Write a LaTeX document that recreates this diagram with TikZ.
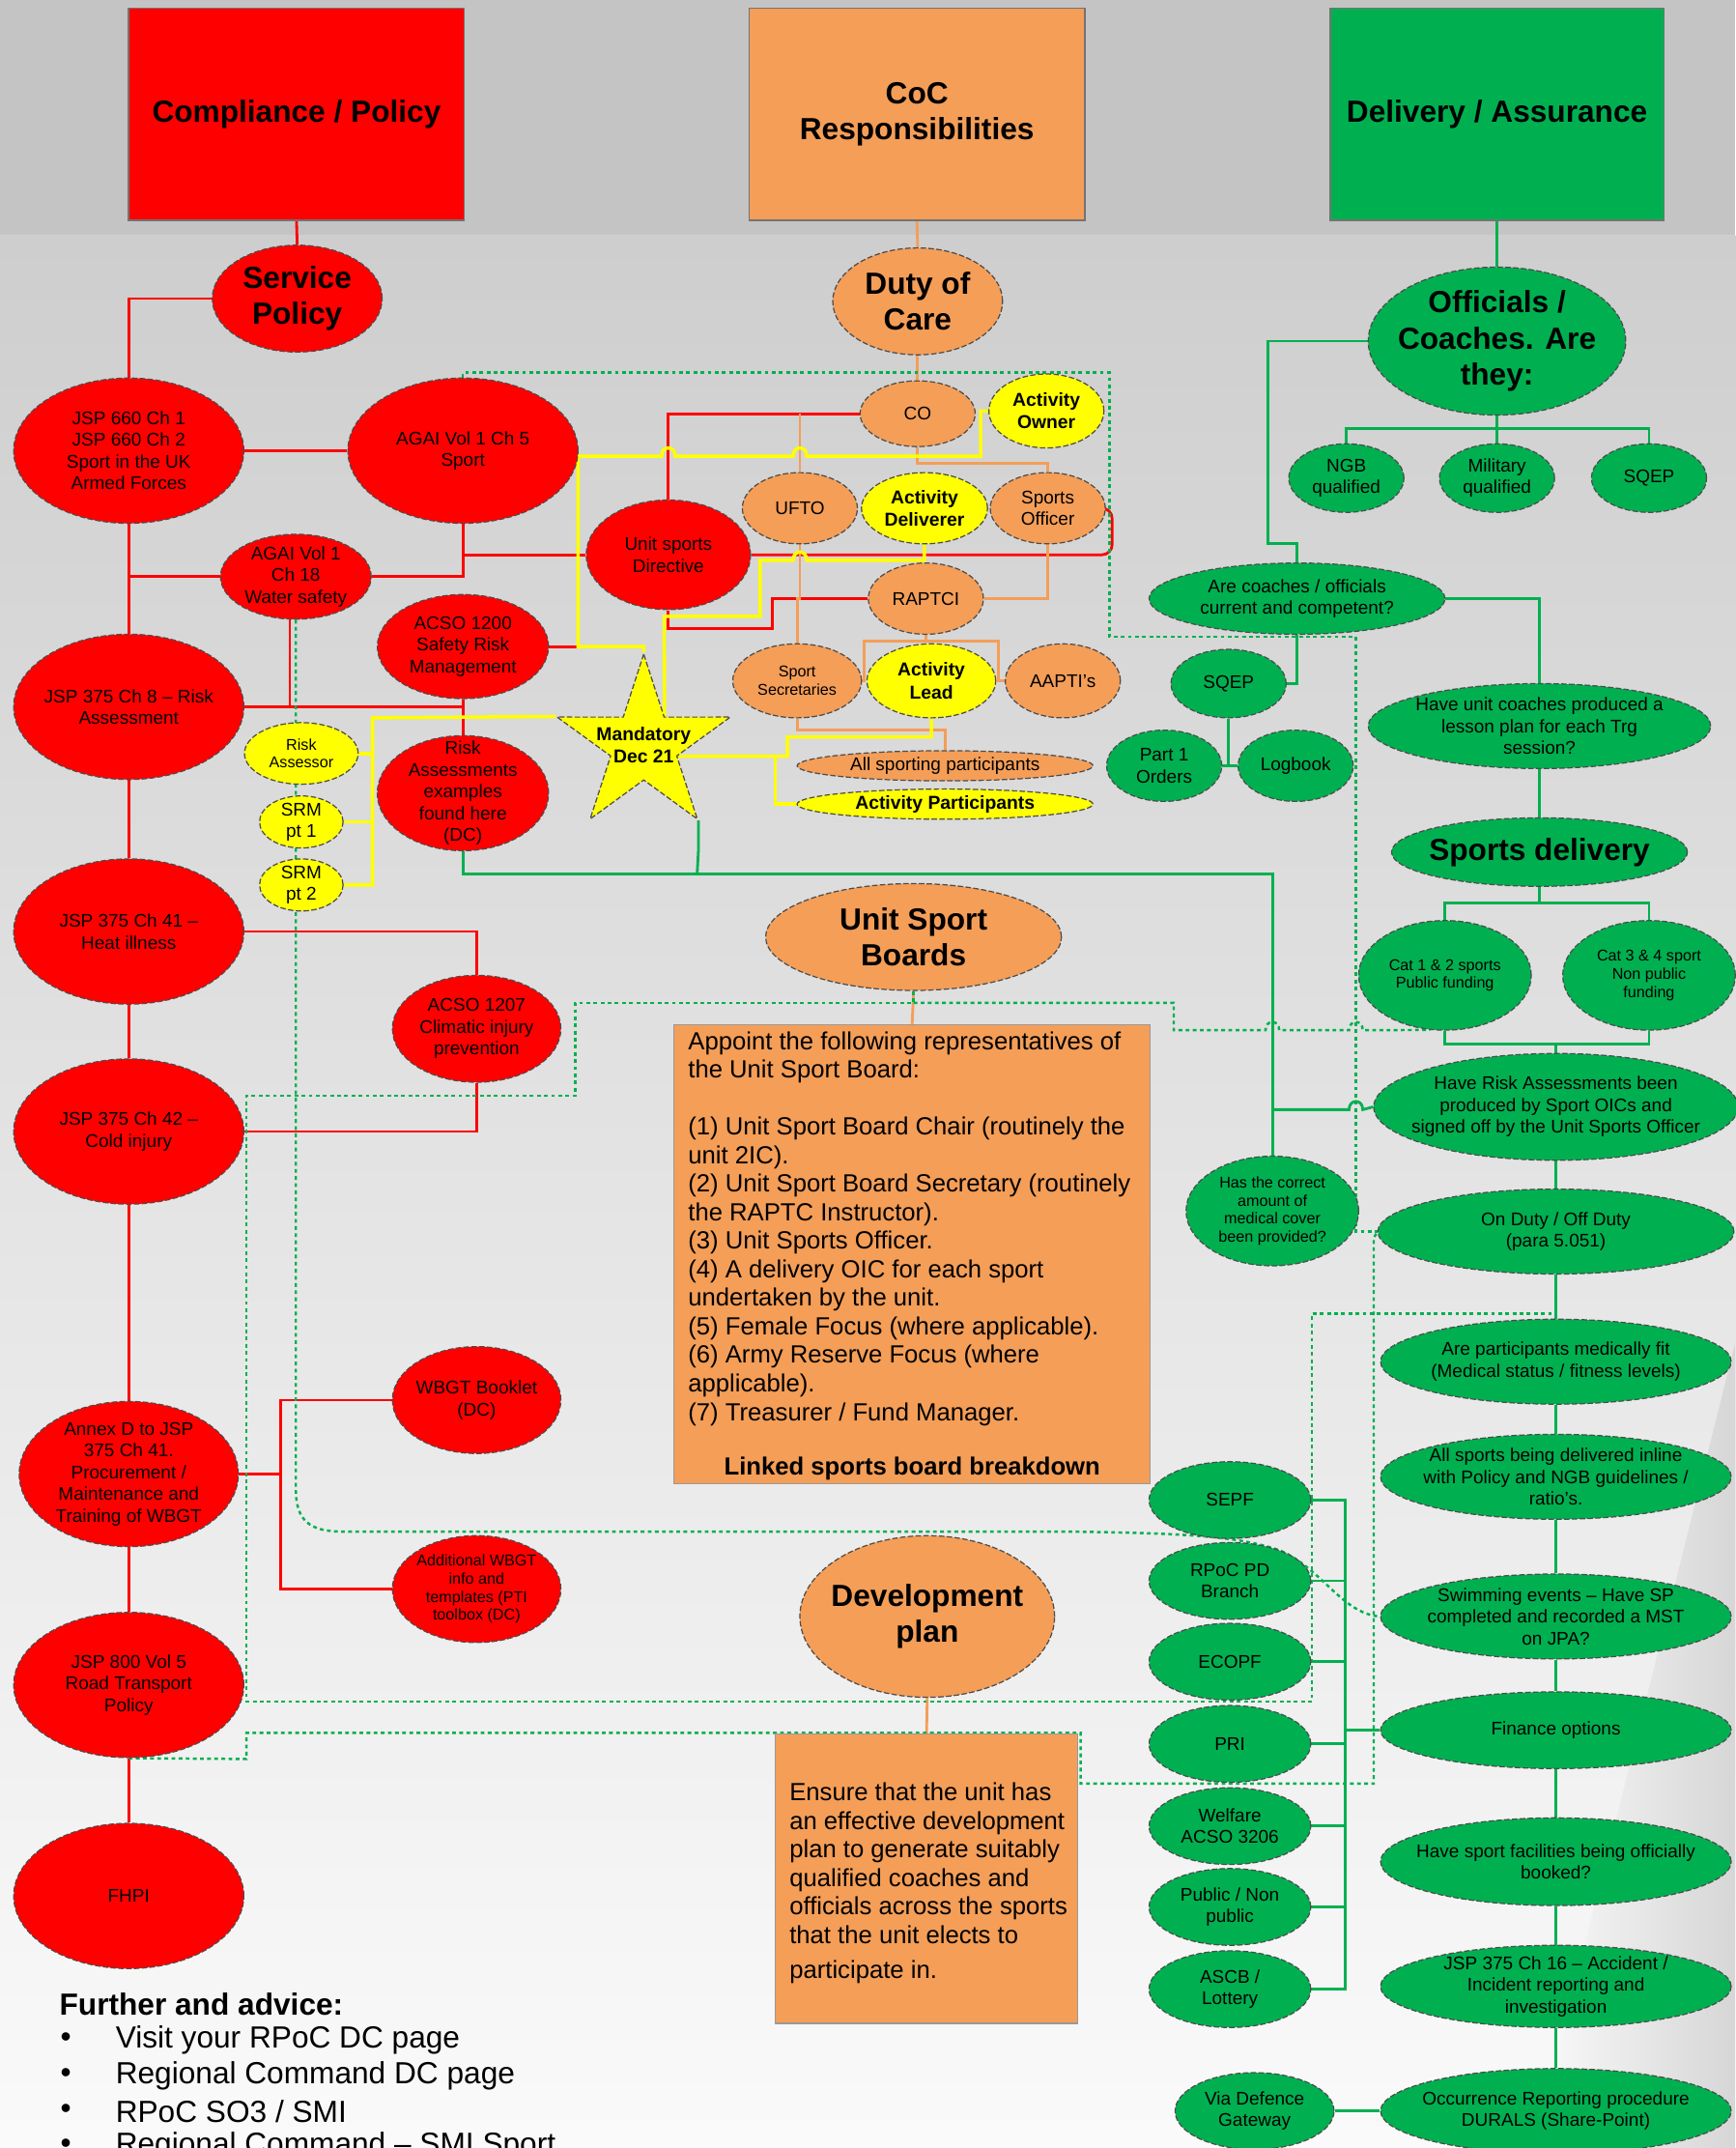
\documentclass[tikz,border=0pt]{standalone}
\usepackage{fontspec}
\setmainfont{Liberation Sans}
\usetikzlibrary{shapes.geometric}

\definecolor{polred}{RGB}{255,0,0}
\definecolor{cocorange}{RGB}{244,158,88}
\definecolor{delgreen}{RGB}{0,176,80}
\definecolor{actyellow}{RGB}{255,255,0}
\definecolor{bgtop}{RGB}{196,196,196}
\definecolor{bgmid}{RGB}{206,206,206}
\definecolor{bgbot}{RGB}{250,250,250}

\def\pxu{0.014175cm}

\pgfdeclarelayer{bg}
\pgfdeclarelayer{lines}
\pgfsetlayers{bg,lines,main}

\tikzset{
  outline/.style={draw=black!70, line width=0.35pt, dash pattern=on 1.6pt off 0.7pt},
  sz/.style 2 args={minimum width=#1*\pxu, minimum height=#2*\pxu},
  redell/.style={ellipse, outline, fill=polred, inner sep=0pt},
  orell/.style={ellipse, outline, fill=cocorange, inner sep=0pt},
  yelell/.style={ellipse, outline, fill=actyellow, inner sep=0pt},
  grell/.style={ellipse, outline, fill=delgreen, inner sep=0pt},
  headbox/.style={rectangle, draw=black!55, line width=0.5pt, inner sep=0pt, align=center,
    font=\fontsize{9}{10.5}\selectfont\bfseries},
  txt/.style={align=center, inner sep=0pt, font=\fontsize{5.4}{6.4}\selectfont},
  txtsm/.style={align=center, inner sep=0pt, font=\fontsize{4.6}{5.3}\selectfont},
  txtbold/.style={align=center, inner sep=0pt, font=\fontsize{5.5}{6.6}\selectfont\bfseries},
  txtbig/.style={align=center, inner sep=0pt, font=\fontsize{9}{10.6}\selectfont\bfseries},
  boxtxt/.style={align=left, inner sep=0pt, font=\fontsize{7.3}{8.4}\selectfont},
  redline/.style={draw=polred, line width=0.8pt},
  orline/.style={draw=cocorange, line width=0.8pt},
  grline/.style={draw=delgreen, line width=0.8pt},
  yelline/.style={draw=actyellow, line width=1pt},
  grdots/.style={draw=delgreen, line width=0.7pt, dash pattern=on 1.1pt off 1pt},
}

\begin{document}
\begin{tikzpicture}[x=0.014175cm, y=-0.014175cm]
\useasboundingbox (0,0) rectangle (1267,1568);

% Background
\begin{pgfonlayer}{bg}
\fill[bgtop] (0,0) rectangle (1267,172);
\shade[top color=bgmid, bottom color=bgbot] (0,172) rectangle (1267,1568);
\shade[left color=bgbot, right color=black!16] (1120,1568) -- (1267,980) -- (1267,1568) -- cycle;
\end{pgfonlayer}

% Header boxes
\node[headbox, fill=polred, sz={245}{155}] (compl) at (216.5,83.5) {Compliance / Policy};
\node[headbox, fill=cocorange, sz={245}{155}] (cocresp) at (669.5,83.5) {CoC\\Responsibilities};
\node[headbox, fill=delgreen, sz={244}{155}] (delass) at (1093,83.5) {Delivery / Assurance};

% Compliance / policy column
\node[redell, sz={124}{78}, label={[txtbig]center:{Service\\Policy}}] (servpol) at (217,218) {};
\node[redell, sz={168}{106}, label={[txt]center:{JSP 660 Ch 1\\JSP 660 Ch 2\\Sport in the UK\\Armed Forces}}] (jsp660) at (94,329) {};
\node[redell, sz={168}{106}, label={[txt]center:{AGAI Vol 1 Ch 5\\Sport}}] (agai5) at (338,329) {};
\node[redell, sz={110}{62}, label={[txt]center:{AGAI Vol 1\\Ch 18\\Water safety}}] (agai18) at (216,421) {};
\node[redell, sz={168}{106}, label={[txt]center:{JSP 375 Ch 8 – Risk\\Assessment}}] (jsp8) at (94,516) {};
\node[redell, sz={125}{76}, label={[txt]center:{ACSO 1200\\Safety Risk\\Management}}] (acso1200) at (338,472) {};
\node[redell, sz={125}{84}, label={[txt]center:{Risk\\Assessments\\examples\\found here\\(DC)}}] (riskdc) at (338,579) {};
\node[redell, sz={120}{80}, label={[txt]center:{Unit sports\\Directive}}] (usd) at (488,405) {};
\node[yelell, sz={83}{45}, label={[txtsm]center:{Risk\\Assessor}}] (riskass) at (220,550) {};
\node[yelell, sz={61}{38}, label={[txt]center:{SRM\\pt 1}}] (srm1) at (220,600) {};
\node[yelell, sz={61}{38}, label={[txt]center:{SRM\\pt 2}}] (srm2) at (220,646) {};
\node[redell, sz={168}{106}, label={[txt]center:{JSP 375 Ch 41 –\\Heat illness}}] (jsp41) at (94,680) {};
\node[redell, sz={123}{78}, label={[txt]center:{ACSO 1207\\Climatic injury\\prevention}}] (acso1207) at (348,751) {};
\node[redell, sz={168}{106}, label={[txt]center:{JSP 375 Ch 42 –\\Cold injury}}] (jsp42) at (94,826) {};
\node[redell, sz={123}{78}, label={[txt]center:{WBGT Booklet\\(DC)}}] (wbgt) at (348,1022) {};
\node[redell, sz={160}{106}, label={[txt]center:{Annex D to JSP\\375 Ch 41.\\Procurement /\\Maintenance and\\Training of WBGT}}] (annexd) at (94,1076) {};
\node[redell, sz={123}{78}, label={[txtsm]center:{Additional WBGT\\info and\\templates (PTI\\toolbox (DC)}}] (addwbgt) at (348,1160) {};
\node[redell, sz={168}{106}, label={[txt]center:{JSP 800 Vol 5\\Road Transport\\Policy}}] (jsp800) at (94,1230) {};
\node[redell, sz={168}{106}, label={[txt]center:FHPI}] (fhpi) at (94,1384) {};

% Mandatory star
\node[star, star points=5, star point ratio=2.62, fill=actyellow, outline, inner sep=0pt, minimum size=133*\pxu] (mand) at (470,544) {};
\node[txtbold] (mandtxt) at (470,544) {Mandatory\\Dec 21};

% CoC responsibilities column
\node[orell, sz={124}{78}, label={[txtbig]center:{Duty of\\Care}}] (duty) at (670,220) {};
\node[orell, sz={84}{48}, label={[txt]center:CO}] (co) at (670,302) {};
\node[yelell, sz={84}{54}, label={[txtbold]center:{Activity\\Owner}}] (actowner) at (764,300) {};
\node[orell, sz={84}{52}, label={[txt]center:UFTO}] (ufto) at (584,371) {};
\node[yelell, sz={92}{52}, label={[txtbold]center:{Activity\\Deliverer}}] (actdel) at (675,371) {};
\node[orell, sz={84}{52}, label={[txt]center:{Sports\\Officer}}] (sportsoff) at (765,371) {};
\node[orell, sz={84}{52}, label={[txt]center:RAPTCI}] (raptci) at (676,437) {};
\node[orell, sz={94}{54}, label={[txtsm]center:{Sport\\Secretaries}}] (sportsec) at (582,497) {};
\node[yelell, sz={94}{54}, label={[txtbold]center:{Activity\\Lead}}] (actlead) at (680,497) {};
\node[orell, sz={84}{54}, label={[txt]center:AAPTI's}] (aapti) at (776,497) {};
\node[orell, sz={216}{22}, label={[txt]center:All sporting participants}] (allsport) at (690,559) {};
\node[yelell, sz={216}{22}, label={[txtbold]center:Activity Participants}] (actpart) at (690,587) {};
\node[orell, sz={216}{78}, label={[txtbig]center:{Unit Sport\\Boards}}] (usb) at (667,684) {};

\node[rectangle, fill=cocorange, draw=black!40, line width=0.3pt, inner sep=0pt, sz={348}{335}] (usbbox) at (666,915.5) {};
\node[boxtxt, anchor=north west] (usbtxt) at (502,752.5) {Appoint the following representatives of\\the Unit Sport Board:\\[8.4pt]%
(1) Unit Sport Board Chair (routinely the\\unit 2IC).\\(2) Unit Sport Board Secretary (routinely\\the RAPTC Instructor).\\%
(3) Unit Sports Officer.\\(4) A delivery OIC for each sport\\undertaken by the unit.\\(5) Female Focus (where applicable).\\%
(6) Army Reserve Focus (where\\applicable).\\(7) Treasurer / Fund Manager.};
\node[boxtxt, font=\fontsize{7.3}{8.4}\selectfont\bfseries] (usblink) at (666,1072) {Linked sports board breakdown};

\node[orell, sz={186}{118}, label={[txtbig]center:{Development\\plan}}] (devplan) at (677,1180) {};
\node[rectangle, fill=cocorange, draw=black!40, line width=0.3pt, inner sep=0pt, sz={221}{211}] (devbox) at (676.5,1371.5) {};
\node[boxtxt, anchor=north west] (devtxt) at (576,1301) {Ensure that the unit has\\an effective development\\plan to generate suitably\\%
qualified coaches and\\officials across the sports\\that the unit elects to\\[1.8pt]participate in.};

% Delivery / assurance column
\node[grell, sz={188}{108}, label={[txtbig]center:{Officials /\\Coaches. Are\\they:}}] (officials) at (1093,249) {};
\node[grell, sz={84}{50}, label={[txt]center:{NGB\\qualified}}] (ngb) at (983,349) {};
\node[grell, sz={84}{50}, label={[txt]center:{Military\\qualified}}] (military) at (1093,349) {};
\node[grell, sz={84}{50}, label={[txt]center:SQEP}] (sqepa) at (1204,349) {};
\node[grell, sz={216}{52}, label={[txt]center:{Are coaches / officials\\current and competent?}}] (arecoach) at (947,437) {};
\node[grell, sz={84}{50}, label={[txt]center:SQEP}] (sqepb) at (897,499) {};
\node[grell, sz={84}{52}, label={[txt]center:{Part 1\\Orders}}] (partone) at (850,559) {};
\node[grell, sz={84}{52}, label={[txt]center:Logbook}] (logbook) at (946,559) {};
\node[grell, sz={250}{62}, label={[txt]center:{Have unit coaches produced a\\lesson plan for each Trg\\session?}}] (lessonplan) at (1124,530) {};
\node[grell, sz={216}{50}, label={[txtbig]center:Sports delivery}] (sportsdel) at (1124,622) {};
\node[grell, sz={126}{80}, label={[txtsm]center:{Cat 1 \& 2 sports\\Public funding}}] (catlow) at (1055,712) {};
\node[grell, sz={126}{80}, label={[txtsm]center:{Cat 3 \& 4 sport\\Non public\\funding}}] (cathigh) at (1204,712) {};
\node[grell, sz={266}{78}, label={[txt]center:{Have Risk Assessments been\\produced by Sport OICs and\\signed off by the Unit Sports Officer}}] (haverisk) at (1136,808) {};
\node[grell, sz={126}{80}, label={[txtsm]center:{Has the correct\\amount of\\medical cover\\been provided?}}] (medcover) at (929,884) {};
\node[grell, sz={260}{62}, label={[txt]center:{On Duty / Off Duty\\(para 5.051)}}] (onduty) at (1136,899) {};
\node[grell, sz={256}{62}, label={[txt]center:{Are participants medically fit\\(Medical status / fitness levels)}}] (medfit) at (1136,994) {};
\node[grell, sz={256}{62}, label={[txt]center:{All sports being delivered inline\\with Policy and NGB guidelines /\\ratio's.}}] (inline) at (1136,1078) {};
\node[grell, sz={256}{62}, label={[txt]center:{Swimming events – Have SP\\completed and recorded a MST\\on JPA?}}] (swim) at (1136,1180) {};
\node[grell, sz={256}{56}, label={[txt]center:Finance options}] (finance) at (1136,1263) {};
\node[grell, sz={256}{64}, label={[txt]center:{Have sport facilities being officially\\booked?}}] (facilities) at (1136,1359) {};
\node[grell, sz={256}{60}, label={[txt]center:{JSP 375 Ch 16 – Accident /\\Incident reporting and\\investigation}}] (accident) at (1136,1450) {};
\node[grell, sz={256}{62}, label={[txt]center:{Occurrence Reporting procedure\\DURALS (Share-Point)}}] (durals) at (1136,1541) {};
\node[grell, sz={116}{56}, label={[txt]center:{Via Defence\\Gateway}}] (gateway) at (916,1541) {};
\node[grell, sz={118}{56}, label={[txt]center:SEPF}] (sepf) at (898,1095) {};
\node[grell, sz={118}{56}, label={[txt]center:{RPoC PD\\Branch}}] (rpoc) at (898,1154) {};
\node[grell, sz={118}{56}, label={[txt]center:ECOPF}] (ecopf) at (898,1213) {};
\node[grell, sz={118}{56}, label={[txt]center:PRI}] (pri) at (898,1273) {};
\node[grell, sz={118}{56}, label={[txt]center:{Welfare\\ACSO 3206}}] (welfare) at (898,1333) {};
\node[grell, sz={118}{56}, label={[txt]center:{Public / Non\\public}}] (publicnp) at (898,1392) {};
\node[grell, sz={118}{56}, label={[txt]center:{ASCB /\\Lottery}}] (ascb) at (898,1452) {};

% Junction points
\coordinate (yspine) at (272,524);
\coordinate (yjoin) at (566,552);
\coordinate (ycorner) at (422,472);
\coordinate (rjoin) at (205,1076);
\coordinate (gtrunk) at (982,1095);

% Further advice
\node[anchor=west, inner sep=0pt, font=\fontsize{9}{10.5}\selectfont\bfseries] (further) at (43,1463) {Further and advice:};
\foreach \t [count=\i] in {Visit your RPoC DC page, Regional Command DC page, RPoC SO3 / SMI, Regional Command – SMI Sport} {
  \node[inner sep=0pt, font=\fontsize{9}{10.5}\selectfont] (bul\i) at (48,1463+26*\i) {\textbullet};
  \node[anchor=west, inner sep=0pt, font=\fontsize{9}{10.5}\selectfont] (adv\i) at (84,1463+26*\i) {\t};
}

\begin{pgfonlayer}{lines}
% Red links
\draw[redline] (compl.south) -- (servpol.north);
\draw[redline] (servpol.west) -| (jsp660.north);
\draw[redline] (jsp660.east) -- (agai5.west);
\draw[redline] (jsp660.south) -- (jsp8.north);
\draw[redline] (94,421) -- (agai18.west);
\draw[redline] (agai18.east) -| (agai5.south);
\draw[redline] (338,405) -- (usd.west);
\draw[redline] (agai18.262) -- (agai18.262 |- jsp8.east);
\draw[redline] (jsp8.east) -- (jsp8.east -| acso1200.south);
\draw[redline] (acso1200.south) -- (riskdc.north);
\draw[redline] (acso1200.east) -- (ycorner);
\draw[redline] (usd.north) |- (co.west);
\draw[redline, rounded corners=3pt] (usd.east) -- (812,405) -- (812,371) -- (sportsoff.east);
\draw[redline] (usd.south) |- (564,459) |- (raptci.west);
\draw[redline] (jsp8.south) -- (jsp41.north);
\draw[redline] (jsp41.south) -- (jsp42.north);
\draw[redline] (jsp42.south) -- (annexd.north);
\draw[redline] (annexd.south) -- (jsp800.north);
\draw[redline] (jsp800.south) -- (fhpi.north);
\draw[redline] (jsp41.east) -| (acso1207.north);
\draw[redline] (jsp42.east) -| (acso1207.south);
\draw[redline] (annexd.east) -- (rjoin);
\draw[redline] (wbgt.west) -| (205,1160) -- (addwbgt.west);

% Orange links
\draw[orline] (cocresp.south) -- (duty.north);
\draw[orline] (duty.south) -- (co.north);
\draw[orline] (co.south) -- (670,338) -| (sportsoff.north);
\draw[orline] (ufto.north) -- (ufto.north |- co.west);
\draw[orline] (ufto.south) -- (ufto.south |- raptci.west) -| (sportsec.north);
\draw[orline] (sportsoff.south) |- (raptci.east);
\draw[orline] (raptci.south) -- (676,468);
\draw[orline] (sportsec.east) -| (631,468) -| (729,497) -- (aapti.west);
\draw[orline] (sportsec.south) |- (690,533) -- (allsport.north);
\draw[orline] (usb.south) -- (usbbox.north);
\draw[orline] (devplan.south) -- (devbox.north);

% Yellow links
\draw[yelline] (actowner.west) -- (716,300) -- (716,333) -- (589,333) .. controls (589,325) and (579,325) .. (579,333)
  -- (493,333) .. controls (493,325) and (483,325) .. (483,333) -- (422,333) -- (ycorner) -| (mand.outer point 1);
\draw[yelline] (actdel.south) |- (589,409) .. controls (589,401) and (579,401) .. (579,409)
  -- (555,409) -- (555,450) -- (485,450) -- (mand.54);
\draw[yelline] (actlead.south) |- (575,538) -- (575,552) -- (mand.-18);
\draw[yelline] (yjoin) |- (actpart.west);
\draw[yelline] (mand.162) -- (yspine) |- (srm2.east);
\draw[yelline] (riskass.east) -- (riskass.east -| yspine);
\draw[yelline] (srm1.east) -- (srm1.east -| yspine);

% Green links
\draw[grline] (delass.south) -- (officials.north);
\draw[grline] (officials.south) -- (military.north);
\draw[grline] (ngb.north) |- (1204,313) -- (sqepa.north);
\draw[grline] (officials.west) -| (926,397) -| (arecoach.north);
\draw[grline] (arecoach.south) |- (sqepb.east);
\draw[grline] (sqepb.south) -- (sqepb.south |- partone.east);
\draw[grline] (partone.east) -- (logbook.west);
\draw[grline] (arecoach.east) -| (lessonplan.north);
\draw[grline] (lessonplan.south) -- (sportsdel.north);
\draw[grline] (sportsdel.south) -- (1124,659);
\draw[grline] (catlow.north) |- (1204,659) -- (cathigh.north);
\draw[grline] (catlow.south) |- (1204,762) -- (cathigh.south);
\draw[grline] (1136,762) -- (haverisk.north);
\draw[grline] (riskdc.south) |- (929,638) -- (medcover.north);
\draw[grline] (mand.-54) -- (mand.-54 |- riskdc.south) -- (509,638);
\draw[grline] (929,810) -- (985,810) .. controls (985,802) and (995,802) .. (995,810) -- (haverisk.west);
\draw[grline] (haverisk.south) -- (onduty.north);
\draw[grline] (onduty.south) -- (medfit.north);
\draw[grline] (medfit.south) -- (inline.north);
\draw[grline] (inline.south) -- (swim.north);
\draw[grline] (swim.south) -- (finance.north);
\draw[grline] (finance.south) -- (facilities.north);
\draw[grline] (facilities.south) -- (accident.north);
\draw[grline] (accident.south) -- (durals.north);
\draw[grline] (sepf.east) -- (gtrunk) -- (gtrunk |- ascb.east) -- (ascb.east);
\foreach \n in {rpoc,ecopf,pri,welfare,publicnp}
  \draw[grline] (\n.east) -- (\n.east -| gtrunk);
\draw[grline] (finance.west) -- (finance.west -| gtrunk);
\draw[grline] (gateway.east) -- (durals.west);

% Dotted green links
\draw[grdots] (agai5.north) -- (338,272) -- (810,272) -- (810,465) -- (990,465) -- (990,899) -- (onduty.west);
\draw[grdots] (usb.south) -- (667,732) -- (420,732) -- (420,800) -- (180,800) -- (180,1242) -- (958,1242)
  -- (958,959) -- (1136,959) -- (onduty.south);
\draw[grdots] (667,732) -- (857,732) -- (857,752) -- (924,752) .. controls (924,744) and (934,744) .. (934,752)
  -- (985,752) .. controls (985,744) and (995,744) .. (995,752) -- (catlow.255);
\draw[grdots] (jsp800.south) -- (180,1284) -- (180,1265) -- (789,1265) -- (789,1302) -- (1003,1302) -- (1003,904) -- (onduty.west);
\draw[grdots] (agai18.south) -- (216,1087) .. controls (216,1110) and (226,1118) .. (250,1118) -- (776,1118)
  .. controls (860,1119) and (905,1121) .. (935,1132) .. controls (965,1145) and (980,1178) .. (swim.west);
\end{pgfonlayer}

\end{tikzpicture}
\end{document}
